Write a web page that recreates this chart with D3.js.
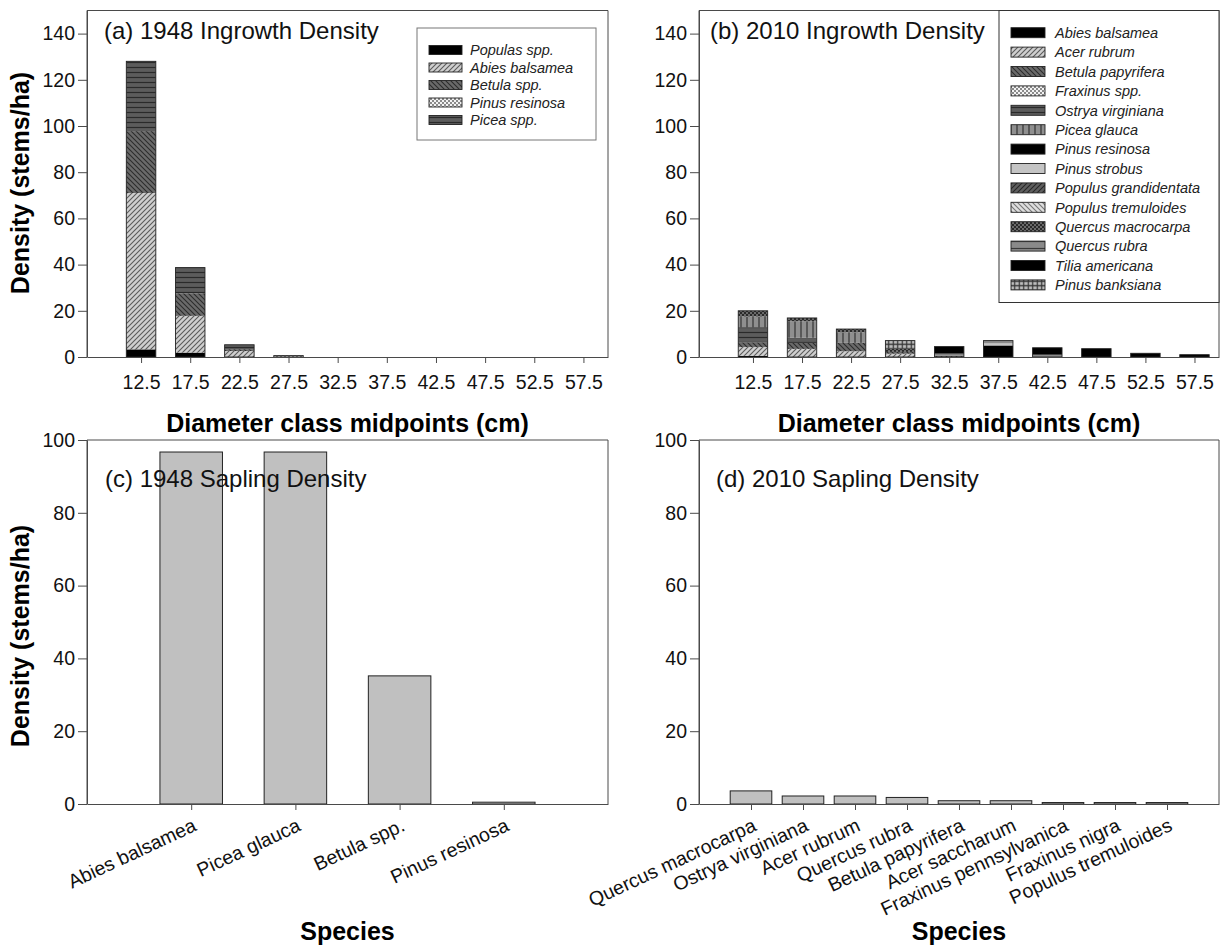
<!DOCTYPE html>
<html>
<head>
<meta charset="utf-8">
<script src="https://cdn.jsdelivr.net/npm/d3@7"></script>
<style>
  html, body { margin: 0; padding: 0; background: #fff; }
  svg { display: block; font-family: "Liberation Sans", Arial, sans-serif; }
</style>
</head>
<body>
<script>
// ---- Data -------------------------------------------------------------
const diameterClasses = [12.5, 17.5, 22.5, 27.5, 32.5, 37.5, 42.5, 47.5, 52.5, 57.5];
const densityTicksIngrowth = [0, 20, 40, 60, 80, 100, 120, 140];
const densityTicksSapling = [0, 20, 40, 60, 80, 100];

// 1948 ingrowth (stems/ha) by diameter class, stacked bottom to top
const ingrowth1948Species = ["Populas spp.", "Abies balsamea", "Betula spp.", "Pinus resinosa", "Picea spp."];
const populas1948   = [3.3, 1.9, 0.0, 0.0, 0, 0, 0, 0, 0, 0];
const abies1948     = [67.7, 15.9, 2.6, 0.0, 0, 0, 0, 0, 0, 0];
const betula1948    = [26.8, 9.8, 0.8, 0.0, 0, 0, 0, 0, 0, 0];
const pinusRes1948  = [0.0, 0.0, 0.0, 0.6, 0, 0, 0, 0, 0, 0];
const picea1948     = [30.2, 11.1, 1.9, 0.0, 0, 0, 0, 0, 0, 0];

// 2010 ingrowth (stems/ha) by diameter class, stacked bottom to top
const ingrowth2010Species = ["Abies balsamea", "Acer rubrum", "Betula papyrifera", "Fraxinus spp.",
  "Ostrya virginiana", "Picea glauca", "Pinus resinosa", "Pinus strobus", "Populus grandidentata",
  "Populus tremuloides", "Quercus macrocarpa", "Quercus rubra", "Tilia americana", "Pinus banksiana"];
const abiesBal2010   = [0.5, 0, 0, 0, 0, 0, 0, 0, 0, 0];
const acerRub2010    = [3.8, 3.5, 2.5, 1.4, 0, 0, 0, 0, 0, 0];
const betulaPap2010  = [2.0, 2.6, 3.6, 0.8, 0.5, 0, 0, 0, 0, 0];
const fraxinus2010   = [0, 0, 0, 0, 0, 0, 0, 0, 0, 0];
const ostrya2010     = [6.6, 2.2, 0, 0, 0, 0, 0, 0, 0, 0];
const piceaGl2010    = [4.6, 7.2, 4.6, 0, 0, 0, 0, 0, 0, 0];
const pinusRes2010   = [0, 0, 0, 0, 0, 5.0, 0, 3.6, 1.6, 1.0];
const pinusStr2010   = [0, 0, 0, 0, 0, 0.9, 0, 0, 0, 0];
const popGrand2010   = [0, 0, 0, 0, 0, 0, 0, 0, 0, 0];
const popTrem2010    = [0, 0, 0, 0, 0, 0, 0, 0, 0, 0];
const quercusMac2010 = [2.5, 1.4, 1.4, 1.3, 0, 0, 0, 0, 0, 0];
const quercusRub2010 = [0, 0, 0, 0, 1.0, 1.2, 1.0, 0, 0, 0];
const tilia2010      = [0, 0, 0, 0, 3.0, 0, 3.0, 0, 0, 0];
const pinusBank2010  = [0, 0, 0, 3.6, 0, 0, 0, 0, 0, 0];

// Sapling densities (stems/ha)
const sapling1948Species = ["Abies balsamea", "Picea glauca", "Betula spp.", "Pinus resinosa"];
const sapling1948Density = [96.7, 96.7, 35.2, 0.5];
const sapling2010Species = ["Quercus macrocarpa", "Ostrya virginiana", "Acer rubrum", "Quercus rubra",
  "Betula papyrifera", "Acer saccharum", "Fraxinus pennsylvanica", "Fraxinus nigra", "Populus tremuloides"];
const sapling2010Density = [3.6, 2.2, 2.2, 1.8, 0.9, 0.9, 0.4, 0.4, 0.4];

// ---- Canvas -----------------------------------------------------------
const W = 1227, H = 947;
const svg = d3.select("body").append("svg").attr("width", W).attr("height", H);
const defs = svg.append("defs");

const AXIS_COLOR = "#4a4a4a";
const TEXT_COLOR = "#111";

// Fill patterns: background colour plus line work
function makePattern(id, bg, line, kind, s, lw) {
  const p = defs.append("pattern").attr("id", id)
    .attr("patternUnits", "userSpaceOnUse").attr("width", s).attr("height", s);
  p.append("rect").attr("width", s).attr("height", s).attr("fill", bg);
  const path = (d, w) => p.append("path").attr("d", d).attr("stroke", line)
    .attr("stroke-width", lw || w || 1).attr("fill", "none");
  if (kind === "fwd") path(`M0,${s} L${s},0 M${-s/2},${s/2} L${s/2},${-s/2} M${s/2},${s*1.5} L${s*1.5},${s/2}`, 1.1);
  if (kind === "back") path(`M0,0 L${s},${s} M${-s/2},${s/2} L${s/2},${s*1.5} M${s/2},${-s/2} L${s*1.5},${s/2}`, 1.1);
  if (kind === "horiz") path(`M0,${s/2} L${s},${s/2}`, 1.2);
  if (kind === "vert") path(`M${s/2},0 L${s/2},${s}`, 1.2);
  if (kind === "grid") path(`M0,${s/2} L${s},${s/2} M${s/2},0 L${s/2},${s}`, 1);
  if (kind === "check") {
    p.append("rect").attr("width", s/2).attr("height", s/2).attr("fill", line);
    p.append("rect").attr("x", s/2).attr("y", s/2).attr("width", s/2).attr("height", s/2).attr("fill", line);
  }
  return `url(#${id})`;
}

const fills = {
  black: "#000",
  lightFwd: makePattern("lightFwd", "#cfcfcf", "#5a5a5a", "fwd", 5),
  darkBack: makePattern("darkBack", "#6a6a6a", "#2c2c2c", "back", 5),
  lightCheck: makePattern("lightCheck", "#f2f2f2", "#8a8a8a", "check", 4),
  darkHoriz: makePattern("darkHoriz", "#5c5c5c", "#2a2a2a", "horiz", 5),
  grayVert: makePattern("grayVert", "#8f8f8f", "#333", "vert", 6),
  lightSolid: "#c4c4c4",
  darkFwd: makePattern("darkFwd", "#5f5f5f", "#262626", "fwd", 5),
  lightBack: makePattern("lightBack", "#dedede", "#777", "back", 5),
  darkCheck: makePattern("darkCheck", "#6a6a6a", "#2a2a2a", "check", 4),
  grayHoriz: makePattern("grayHoriz", "#8a8a8a", "#3a3a3a", "horiz", 7),
  lightGrid: makePattern("lightGrid", "#bdbdbd", "#333", "grid", 4.5, 1.2)
};

const ingrowth1948Fills = [fills.black, fills.lightFwd, fills.darkBack, fills.lightCheck, fills.darkHoriz];
const ingrowth2010Fills = [fills.black, fills.lightFwd, fills.darkBack, fills.lightCheck, fills.darkHoriz,
  fills.grayVert, fills.black, fills.lightSolid, fills.darkFwd, fills.lightBack, fills.darkCheck,
  fills.grayHoriz, fills.black, fills.lightGrid];

// ---- Shared helpers ---------------------------------------------------
function frame(g, x0, x1, y0, y1) {
  g.append("path")
    .attr("d", `M${x0},${y1} L${x0},${y0} L${x1},${y0} L${x1},${y1}`)
    .attr("fill", "none").attr("stroke", AXIS_COLOR).attr("stroke-width", 1);
}

function styleAxis(sel) {
  sel.selectAll("path.domain").attr("stroke", AXIS_COLOR);
  sel.selectAll(".tick line").attr("stroke", AXIS_COLOR);
  sel.selectAll(".tick text").attr("fill", TEXT_COLOR).style("font-size", "19.5px")
    .style("font-family", '"Liberation Sans", Arial, sans-serif');
}

function yAxis(g, y, x0, ticks) {
  const a = g.append("g").attr("transform", `translate(${x0},0)`)
    .call(d3.axisLeft(y).tickValues(ticks).tickSize(9).tickSizeOuter(0).tickPadding(3));
  styleAxis(a);
}

function title(g, x, yy, txt) {
  g.append("text").attr("x", x).attr("y", yy).attr("fill", TEXT_COLOR)
    .style("font-size", "24px").text(txt);
}

function boldLabel(g, x, yy, txt, rotate) {
  g.append("text")
    .attr("transform", `translate(${x},${yy})` + (rotate ? " rotate(-90)" : ""))
    .attr("text-anchor", "middle").attr("fill", "#000")
    .style("font-size", "25px").style("font-weight", "bold").text(txt);
}

// ---- Stacked ingrowth panels -----------------------------------------
function ingrowthPanel(opt) {
  const g = svg.append("g");
  const x = d3.scaleLinear().domain([7, 60]).range([opt.x0, opt.x1]);
  const y = d3.scaleLinear().domain([0, 150]).range([opt.yb, opt.yt]);

  const rows = diameterClasses.map((d, i) => {
    const r = { cls: d };
    opt.species.forEach((s, k) => { r[s] = opt.series[k][i]; });
    return r;
  });
  const stacked = d3.stack().keys(opt.species)(rows);
  const half = 1.5;

  stacked.forEach((layer, k) => {
    g.append("g").selectAll("rect").data(layer.filter(d => d[1] - d[0] > 0)).join("rect")
      .attr("x", d => x(d.data.cls - half))
      .attr("width", d => x(d.data.cls + half) - x(d.data.cls - half))
      .attr("y", d => y(d[1]))
      .attr("height", d => y(d[0]) - y(d[1]))
      .attr("fill", opt.fills[k]);
  });
  // outline of each full bar
  g.append("g").selectAll("rect").data(rows).join("rect")
    .attr("x", d => x(d.cls - half))
    .attr("width", d => x(d.cls + half) - x(d.cls - half))
    .attr("y", d => y(d3.sum(opt.species, s => d[s])))
    .attr("height", d => y(0) - y(d3.sum(opt.species, s => d[s])))
    .attr("fill", "none").attr("stroke", "#222").attr("stroke-width", 0.9);

  frame(g, opt.x0, opt.x1, opt.yt, opt.yb);
  yAxis(g, y, opt.x0, densityTicksIngrowth);
  const xa = g.append("g").attr("transform", `translate(0,${opt.yb})`)
    .call(d3.axisBottom(x).tickValues(diameterClasses).tickFormat(d3.format(".1f"))
      .tickSize(6).tickSizeOuter(0).tickPadding(12));
  styleAxis(xa);

  title(g, opt.titleX, 39, opt.title);
  boldLabel(g, (opt.x0 + opt.x1) / 2, 432, "Diameter class midpoints (cm)");
  if (opt.yLabel) boldLabel(g, 29, 183, "Density (stems/ha)", true);

  // legend
  const L = opt.legend;
  const lg = g.append("g");
  lg.append("rect").attr("x", L.x).attr("y", L.y).attr("width", L.w).attr("height", L.h)
    .attr("fill", "#fff").attr("stroke", L.stroke).attr("stroke-width", 1);
  opt.species.forEach((s, k) => {
    const cy = L.firstRow + k * L.step;
    lg.append("rect").attr("x", L.sx).attr("y", cy - L.sh / 2).attr("width", L.sw).attr("height", L.sh)
      .attr("fill", opt.fills[k]).attr("stroke", "#222").attr("stroke-width", 0.9);
    lg.append("text").attr("x", L.tx).attr("y", cy).attr("dy", "0.36em")
      .attr("fill", "#222").style("font-size", "14.5px").style("font-style", "italic").text(s);
  });
}

ingrowthPanel({
  x0: 87, x1: 608, yt: 10.5, yb: 357,
  species: ingrowth1948Species,
  series: [populas1948, abies1948, betula1948, pinusRes1948, picea1948],
  fills: ingrowth1948Fills,
  title: "(a) 1948 Ingrowth Density", titleX: 104, yLabel: true,
  legend: { x: 417, y: 28, w: 179, h: 112, stroke: "#777", sx: 429, sw: 33, sh: 9,
            tx: 470, firstRow: 50, step: 17.5 }
});

ingrowthPanel({
  x0: 699, x1: 1219, yt: 10.5, yb: 357,
  species: ingrowth2010Species,
  series: [abiesBal2010, acerRub2010, betulaPap2010, fraxinus2010, ostrya2010, piceaGl2010,
    pinusRes2010, pinusStr2010, popGrand2010, popTrem2010, quercusMac2010, quercusRub2010,
    tilia2010, pinusBank2010],
  fills: ingrowth2010Fills,
  title: "(b) 2010 Ingrowth Density", titleX: 710, yLabel: false,
  legend: { x: 999, y: 10.5, w: 220, h: 292, stroke: "#333", sx: 1011, sw: 34, sh: 10,
            tx: 1055, firstRow: 32.7, step: 19.4 }
});

// ---- Sapling panels ---------------------------------------------------
function saplingPanel(opt) {
  const g = svg.append("g");
  const x = d3.scalePoint().domain(opt.species).range([opt.x0, opt.x1]).padding(1);
  const y = d3.scaleLinear().domain([0, 100]).range([opt.yb, opt.yt]);
  const bw = x.step() * opt.barFrac;

  g.append("g").selectAll("rect").data(opt.species).join("rect")
    .attr("x", d => x(d) - bw / 2).attr("width", bw)
    .attr("y", (d, i) => y(opt.values[i]))
    .attr("height", (d, i) => y(0) - y(opt.values[i]))
    .attr("fill", "#c0c0c0").attr("stroke", "#222").attr("stroke-width", 1);

  frame(g, opt.x0, opt.x1, opt.yt, opt.yb);
  yAxis(g, y, opt.x0, densityTicksSapling);
  const xa = g.append("g").attr("transform", `translate(0,${opt.yb})`)
    .call(d3.axisBottom(x).tickSize(6).tickSizeOuter(0));
  styleAxis(xa);
  xa.selectAll(".tick text")
    .attr("y", null).attr("dy", null)
    .attr("text-anchor", "end")
    .attr("transform", "translate(6,26) rotate(-25)");

  title(g, opt.titleX, 487, opt.title);
  boldLabel(g, (opt.x0 + opt.x1) / 2, 940, "Species");
  if (opt.yLabel) boldLabel(g, 29, 636, "Density (stems/ha)", true);
}

saplingPanel({
  x0: 87, x1: 608, yt: 440, yb: 804, barFrac: 0.6,
  species: sapling1948Species, values: sapling1948Density,
  title: "(c) 1948 Sapling Density", titleX: 105, yLabel: true
});

saplingPanel({
  x0: 699, x1: 1219, yt: 440, yb: 804, barFrac: 0.8,
  species: sapling2010Species, values: sapling2010Density,
  title: "(d) 2010 Sapling Density", titleX: 716, yLabel: false
});
</script>
</body>
</html>
